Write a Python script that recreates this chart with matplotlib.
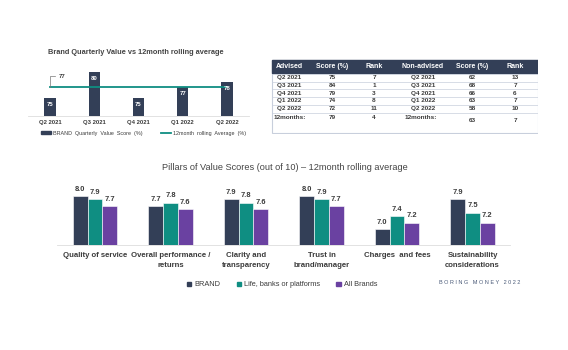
import numpy as np
import matplotlib as mpl
import matplotlib.pyplot as plt
from matplotlib.patches import Patch, Rectangle
from matplotlib.lines import Line2D

mpl.rcParams['font.family'] = ['Liberation Sans', 'DejaVu Sans']

NAVY = '#333f57'
TEAL = '#0f8e82'
PURPLE = '#6a41a1'
TXT = '#3b3b3b'

# top left: quarterly score vs rolling average
quarters = ['Q2 2021', 'Q3 2021', 'Q4 2021', 'Q1 2022', 'Q2 2022']
brand_quarterly = [75, 80, 75, 77, 78]
rolling_avg = 77

# table
tbl_header = ['Advised', 'Score (%)', 'Rank', 'Non-advised', 'Score (%)', 'Rank']
periods = ['Q2 2021', 'Q3 2021', 'Q4 2021', 'Q1 2022', 'Q2 2022', '12months:']
adv_score = [75, 84, 79, 74, 72, 79]
adv_rank = [7, 1, 3, 8, 11, 4]
non_score = [62, 68, 66, 63, 58, 63]
non_rank = [13, 7, 6, 7, 10, 7]

# bottom: pillars of value
pillars = ['Quality of service', 'Overall performance /\nreturns', 'Clarity and\ntransparency',
           'Trust in\nbrand/manager', 'Charges  and fees', 'Sustainability\nconsiderations']
brand = [8.0, 7.7, 7.9, 8.0, 7.0, 7.9]
life = [7.9, 7.8, 7.8, 7.9, 7.4, 7.5]
all_brands = [7.7, 7.6, 7.6, 7.7, 7.2, 7.2]
series_names = ['BRAND', 'Life, banks or platforms', 'All Brands']

W, H = 568, 350
fig = plt.figure(figsize=(W / 100, H / 100), dpi=100)
fig.patch.set_facecolor('white')


def px_axes(x0, y0, x1, y1):
    # pixel box (top-left origin) -> axes
    return fig.add_axes([x0 / W, 1 - y1 / H, (x1 - x0) / W, (y1 - y0) / H])


# ---------- top left chart ----------
ax1 = px_axes(28, 66.6, 249, 116)
x = np.arange(len(quarters))
ax1.bar(x, brand_quarterly, width=0.26, color=NAVY, zorder=2)
ax1.plot([x[0], x[-1]], [rolling_avg, rolling_avg], color=TEAL, lw=1.3, zorder=3)
for xi, v in zip(x, brand_quarterly):
    ax1.annotate(str(v), (xi, v), xytext=(0, -4.5), textcoords='offset points',
                 ha='center', va='center', color='white', fontsize=4.3, fontweight='bold', zorder=4)
ax1.plot([0, 0, 0.11], [rolling_avg, 79.1, 79.1], color='#777777', lw=0.5, zorder=3)
ax1.text(0.2, 79.1, str(rolling_avg), fontsize=4.3, fontweight='bold', color=TXT, va='center')
ax1.set_xlim(-0.5, 4.5)
ax1.set_ylim(71.5, 81)
ax1.set_xticks(x)
ax1.set_xticklabels(quarters, fontsize=4.2, color=TXT, fontweight='bold')
ax1.tick_params(axis='x', length=0, pad=3)
ax1.set_yticks([])
for s in ['top', 'right', 'left']:
    ax1.spines[s].set_visible(False)
ax1.spines['bottom'].set_color('#dddddd')
ax1.spines['bottom'].set_linewidth(0.6)
fig.text(48 / W, 1 - 52 / H, 'Brand Quarterly Value vs 12month rolling average',
         fontsize=5.3, fontweight='bold', color='#444444', va='center')
h1 = [Patch(color=NAVY), Line2D([], [], color=TEAL, lw=1.3)]
fig.legend(h1, ['BRAND  Quarterly  Value  Score  (%)', '12month  rolling  Average  (%)'],
           loc='center left', bbox_to_anchor=(36 / W, 1 - 133 / H), ncol=2, frameon=False,
           fontsize=3.9, handlelength=1.8, handleheight=0.6, columnspacing=3.5,
           handletextpad=0.4, labelcolor=TXT)

# ---------- table ----------
axt = px_axes(271, 59, 538, 134)
axt.set_xlim(271, 538)
axt.set_ylim(134, 59)
axt.axis('off')
axt.add_patch(Rectangle((271.5, 60), 266, 13.5, color=NAVY, zorder=1))
axt.add_patch(Rectangle((271.5, 60), 266, 73.5, fill=False, ec='#c8cfdc', lw=0.8, zorder=0))
col_x = [289, 332, 374, 423, 472, 515]
for cx, h in zip(col_x, tbl_header):
    axt.text(cx, 66.8, h, ha='center', va='center', color='white', fontsize=5, fontweight='bold')
row_y = [77.8, 85.5, 93.2, 101, 108.7]
for yy in [74, 81.7, 89.3, 97.3, 105, 112.7]:
    axt.plot([271.5, 537.5], [yy, yy], color='#c8cfdc', lw=0.5)
for i in range(len(periods)):
    last = i == len(periods) - 1
    y = 117.7 if last else row_y[i]
    y2 = 120.7 if last else row_y[i]
    kw = dict(ha='center', va='center', color=TXT, fontsize=4.6, fontweight='bold')
    axt.text(col_x[0] + (1 if last else 0), y, periods[i], **kw)
    axt.text(col_x[1], y, str(adv_score[i]), **kw)
    axt.text(col_x[2], y, str(adv_rank[i]), **kw)
    axt.text(col_x[3] - (2 if last else 0), y, periods[i], **kw)
    axt.text(col_x[4], y2, str(non_score[i]), **kw)
    axt.text(col_x[5], y2, str(non_rank[i]), **kw)

# ---------- bottom chart ----------
ax2 = px_axes(57.25, 186.3, 510.25, 245)
xb = np.arange(len(pillars))
bw = 0.195
colors = [NAVY, TEAL, PURPLE]
for k, vals in enumerate([brand, life, all_brands]):
    pos = xb + (k - 1) * bw
    ax2.bar(pos, np.array(vals) - 6.52, bottom=6.52, width=bw, color=colors[k],
            edgecolor='white', linewidth=0.4, zorder=2)
    for p, v in zip(pos, vals):
        ax2.annotate(f'{v:.1f}', (p, v), xytext=(0, 2.5), textcoords='offset points',
                     ha='center', va='bottom', fontsize=5.4, fontweight='bold', color=TXT)
ax2.set_xlim(-0.5, 5.5)
ax2.set_ylim(6.52, 8.3)
ax2.set_xticks(xb)
ax2.set_xticklabels(pillars, fontsize=5.6, color=TXT, fontweight='bold', va='top', linespacing=1.7)
ax2.tick_params(axis='x', length=0, pad=5)
ax2.set_yticks([])
for s in ['top', 'right', 'left']:
    ax2.spines[s].set_visible(False)
ax2.spines['bottom'].set_color('#dddddd')
ax2.spines['bottom'].set_linewidth(0.6)

fig.text(285 / W, 1 - 168 / H, 'Pillars of Value Scores (out of 10) \u2013 12month rolling average',
         ha='center', va='center', fontsize=6.6, color='#444444')
h2 = [Patch(color=c) for c in colors]
fig.legend(h2, series_names, loc='center', bbox_to_anchor=(282 / W, 1 - 285 / H), ncol=3,
           frameon=False, fontsize=5.3, handlelength=0.6, handleheight=0.6,
           handletextpad=0.4, columnspacing=2.2, labelcolor=TXT)
fig.text(480 / W, 1 - 282 / H, 'B O R I N G   M O N E Y   2 0 2 2', ha='center', va='center',
         fontsize=4.0, color='#4a5a78')

fig.savefig('out.png', dpi=100, facecolor='white')
